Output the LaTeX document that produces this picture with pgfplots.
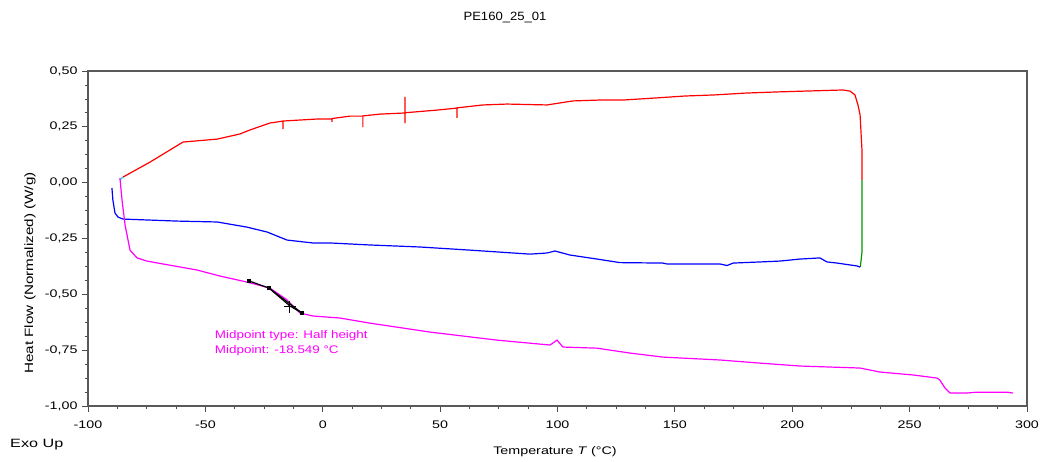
\documentclass[border=0pt]{standalone}
\usepackage{fontspec}
\setmainfont{Liberation Sans}
\newfontfamily\tickfont{Liberation Sans}[FakeStretch=1.3]
\newfontfamily\titlefont{Liberation Sans}[FakeStretch=1.09]
\newfontfamily\ylabfont{Liberation Sans}[FakeStretch=1.27]
\newfontfamily\annfont{Liberation Sans}[FakeStretch=1.22]
\newfontfamily\exofont{Liberation Sans}[FakeStretch=1.35]
\usepackage{pgfplots}
\pgfplotsset{compat=1.18}
\definecolor{dscred}{RGB}{255,0,0}
\definecolor{dscblue}{RGB}{0,0,255}
\definecolor{dscmag}{RGB}{255,0,255}
\definecolor{dscgreen}{RGB}{0,150,0}
\definecolor{dsccyan}{RGB}{0,230,255}
\begin{document}
\begin{tikzpicture}
\useasboundingbox (-88pt,-55pt) rectangle (955pt,406pt);
\begin{axis}[
  width=939pt, height=335pt, scale only axis,
  xmin=-100, xmax=300, ymin=-1, ymax=0.5,
  xtick={-100,-50,0,50,100,150,200,250,300},
  ytick={-1,-0.75,-0.5,-0.25,0,0.25,0.5},
  minor x tick num=3, minor y tick num=3,
  tick pos=left, tick align=outside,
  major tick length=6pt, minor tick length=3pt,
  axis line style={draw=black!65, line width=1.4pt},
  every tick/.style={black!70, line width=0.8pt},
  /pgf/number format/assume math mode=true,
  yticklabel style={/pgf/number format/fixed, /pgf/number format/fixed zerofill, /pgf/number format/precision=2, /pgf/number format/use comma, xshift=-1pt},
  xticklabel style={/pgf/number format/fixed, /pgf/number format/precision=0, yshift=-5pt},
  ticklabel style={font=\tickfont\fontsize{11}{13}\selectfont},
]
% heating (red)
\addplot[dscred, line width=1.2pt] coordinates {
(-85.1,0.025) (-73.6,0.092) (-59.5,0.182) (-45.0,0.195) (-35.3,0.218) (-31.0,0.236)
(-22.5,0.267) (-16.9,0.276) (-16.9,0.240) (-16.9,0.276) (-2.4,0.285) (3.9,0.285) (3.9,0.272) (3.9,0.287)
(11.6,0.298) (17.1,0.298) (17.1,0.249) (17.1,0.299) (24.4,0.307)
(35.0,0.312) (35.0,0.384) (35.0,0.267) (35.0,0.313) (48.7,0.325)
(57.2,0.334) (57.2,0.290) (57.2,0.335) (68.3,0.348) (78.5,0.352) (95.5,0.348)
(106.6,0.366) (118.1,0.370) (127.9,0.370) (141.5,0.379) (154.3,0.388) (167.1,0.393)
(179.9,0.401) (192.7,0.406) (205.4,0.410) (221.6,0.415) (224.6,0.410) (226.7,0.393)
(228.0,0.348) (228.9,0.303) (229.7,0.146) (229.7,0.012)
};
% cyan start
\addplot[dsccyan, line width=1.2pt] coordinates {(-86.4,0.012) (-85.1,0.025)};
% green isotherm
\addplot[dscgreen, line width=1.2pt] coordinates {(229.7,0.012) (229.7,-0.311) (229.0,-0.378)};
% cooling (blue)
\addplot[dscblue, line width=1.2pt] coordinates {
(-89.8,-0.024) (-89.4,-0.078) (-88.5,-0.136) (-87.2,-0.154) (-85.1,-0.163)
(-62.1,-0.172) (-45.0,-0.176) (-32.3,-0.199) (-23.7,-0.221) (-15.2,-0.257) (-4.2,-0.270)
(3.1,-0.270) (20.1,-0.279) (41.4,-0.288) (62.7,-0.302) (88.3,-0.320) (95.5,-0.315)
(98.9,-0.306) (105.3,-0.324) (116.8,-0.342) (126.6,-0.358) (144.9,-0.360) (146.6,-0.364)
(169.2,-0.364) (172.2,-0.371) (174.8,-0.360) (186.3,-0.355) (194.8,-0.351) (203.3,-0.342)
(211.8,-0.337) (214.8,-0.355) (219.1,-0.360) (227.6,-0.373) (228.9,-0.378)
};
% second heating (magenta)
\addplot[dscmag, line width=1.2pt] coordinates {
(-86.4,0.021) (-85.5,-0.078) (-84.2,-0.190) (-82.1,-0.302) (-79.1,-0.337) (-74.9,-0.351)
(-68.1,-0.364) (-53.6,-0.391) (-43.8,-0.418) (-32.3,-0.445) (-22.5,-0.472) (-15.2,-0.525)
(-9.7,-0.584) (-4.2,-0.597) (7.3,-0.606) (20.1,-0.629) (45.7,-0.669) (74.2,-0.705)
(96.8,-0.727) (99.8,-0.705) (102.3,-0.736) (116.8,-0.741) (130.9,-0.763) (144.9,-0.781)
(169.2,-0.794) (186.3,-0.808) (203.3,-0.821) (228.9,-0.830) (237.4,-0.848) (251.4,-0.861)
(261.7,-0.875) (262.9,-0.884) (265.1,-0.920) (267.2,-0.942) (274.4,-0.942) (278.7,-0.938)
(291.5,-0.938) (294.0,-0.942)
};
% glass transition evaluation
\addplot[black, line width=1.2pt, mark=square*, mark size=1.2pt] coordinates {
(-31.4,-0.440) (-22.9,-0.472) (-8.8,-0.584)
};
\addplot[black, line width=1.2pt, mark=none] coordinates {
(-22.9,-0.472) (-14.0,-0.552) (-8.8,-0.584)
};
\addplot[black, only marks, mark=+, mark size=6pt, line width=1pt] coordinates {(-14.0,-0.555)};
\node[anchor=west, text=dscmag, font=\annfont\fontsize{11}{13}\selectfont, inner sep=0pt] at (axis cs:-46,-0.687) {Midpoint type: Half height};
\node[anchor=west, text=dscmag, font=\annfont\fontsize{11}{13}\selectfont, inner sep=0pt] at (axis cs:-46,-0.754) {Midpoint: -18.549 °C};
\end{axis}
\node[font=\titlefont\fontsize{12}{14}\selectfont] at (417pt,388pt) {PE160\_25\_01};
\node[font=\exofont\fontsize{12}{14}\selectfont, anchor=west, inner sep=0pt] at (-78pt,-39pt) {Exo Up};
\node[font=\tickfont\fontsize{11}{13}\selectfont] at (467pt,-46pt) {Temperature \textit{T} (°C)};
\node[font=\ylabfont\fontsize{12}{14}\selectfont, rotate=90] at (-58pt,133pt) {Heat Flow (Normalized) (W/g)};
\end{tikzpicture}
\end{document}
